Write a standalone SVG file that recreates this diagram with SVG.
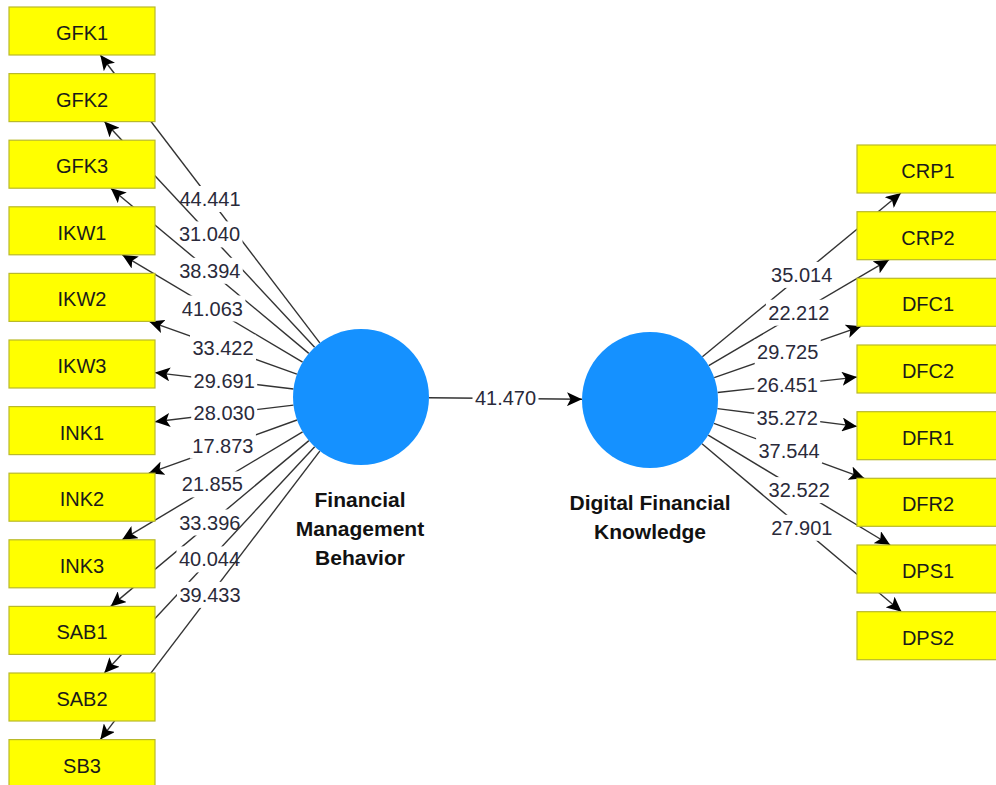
<svg xmlns="http://www.w3.org/2000/svg" width="996" height="785" viewBox="0 0 996 785">
<style>
.ln{stroke:#333;stroke-width:1.4;fill:none;marker-end:url(#ah)}
.lb rect{fill:#fff}
.lb text{font-family:"Liberation Sans",Arial,sans-serif;font-size:20px;fill:#2a2a3a;text-anchor:middle}
.bx rect{fill:#ffff00;stroke:#b9b92a;stroke-width:1.2}
.bx text{font-family:"Liberation Sans",Arial,sans-serif;font-size:20px;fill:#1a1a1a;text-anchor:middle}
.lv circle{fill:#1591ff}
.lv text{font-family:"Liberation Sans",Arial,sans-serif;font-size:21px;font-weight:bold;fill:#111;text-anchor:middle}
</style>
<defs>
<marker id="ah" markerUnits="userSpaceOnUse" markerWidth="15" markerHeight="14" viewBox="0 0 15 14" refX="15" refY="7" orient="auto">
<path d="M0,0 L15,7 L0,14 L3.5,7 z" fill="#000"/>
</marker>
</defs>
<rect width="996" height="785" fill="#fff"/>
<g id="connectors">
<line class="ln" x1="319.8" y1="342.9" x2="100.3" y2="55"/>
<g class="lb"><rect x="177" y="186" width="66" height="26"/><text x="210" y="206">44.441</text></g>
<line class="ln" x1="314.6" y1="347.2" x2="104.4" y2="121.6"/>
<g class="lb"><rect x="176.5" y="221.4" width="66" height="26"/><text x="209.5" y="241.4">31.040</text></g>
<line class="ln" x1="308.8" y1="353.4" x2="110.8" y2="188.2"/>
<g class="lb"><rect x="176.8" y="257.8" width="66" height="26"/><text x="209.8" y="277.8">38.394</text></g>
<line class="ln" x1="302.6" y1="362.2" x2="122.3" y2="254.8"/>
<g class="lb"><rect x="179.4" y="295.5" width="66" height="26"/><text x="212.4" y="315.5">41.063</text></g>
<line class="ln" x1="296.9" y1="374.1" x2="149.2" y2="321.4"/>
<g class="lb"><rect x="190" y="334.8" width="66" height="26"/><text x="223" y="354.8">33.422</text></g>
<line class="ln" x1="293.5" y1="389" x2="155" y2="372.6"/>
<g class="lb"><rect x="191.2" y="367.8" width="66" height="26"/><text x="224.2" y="387.8">29.691</text></g>
<line class="ln" x1="293.5" y1="405.1" x2="155" y2="421.8"/>
<g class="lb"><rect x="191.2" y="399.5" width="66" height="26"/><text x="224.2" y="419.5">28.030</text></g>
<line class="ln" x1="297" y1="420" x2="148.8" y2="473.2"/>
<g class="lb"><rect x="189.9" y="432.6" width="66" height="26"/><text x="222.9" y="452.6">17.873</text></g>
<line class="ln" x1="302.6" y1="431.9" x2="122.1" y2="539.8"/>
<g class="lb"><rect x="179.4" y="471.4" width="66" height="26"/><text x="212.4" y="491.4">21.855</text></g>
<line class="ln" x1="308.9" y1="440.6" x2="110.7" y2="606.4"/>
<g class="lb"><rect x="176.8" y="509.5" width="66" height="26"/><text x="209.8" y="529.5">33.396</text></g>
<line class="ln" x1="314.7" y1="446.8" x2="104.3" y2="673"/>
<g class="lb"><rect x="176.5" y="546.4" width="66" height="26"/><text x="209.5" y="566.4">40.044</text></g>
<line class="ln" x1="319.8" y1="451.1" x2="100.3" y2="739.6"/>
<g class="lb"><rect x="177" y="581.9" width="66" height="26"/><text x="210" y="601.9">39.433</text></g>
<line class="ln" x1="429" y1="397.7" x2="582" y2="399.3"/>
<g class="lb"><rect x="472.5" y="385" width="66" height="26"/><text x="505.5" y="405">41.470</text></g>
<line class="ln" x1="702.4" y1="356.7" x2="900.9" y2="193"/>
<g class="lb"><rect x="768.7" y="261.9" width="66" height="26"/><text x="801.7" y="281.9">35.014</text></g>
<line class="ln" x1="708.7" y1="365.6" x2="889.1" y2="259.7"/>
<g class="lb"><rect x="765.9" y="299.7" width="66" height="26"/><text x="798.9" y="319.7">22.212</text></g>
<line class="ln" x1="714.2" y1="377.6" x2="861.2" y2="326.3"/>
<g class="lb"><rect x="754.7" y="339" width="66" height="26"/><text x="787.7" y="359">29.725</text></g>
<line class="ln" x1="717.6" y1="392.5" x2="857" y2="377.1"/>
<g class="lb"><rect x="754.3" y="371.8" width="66" height="26"/><text x="787.3" y="391.8">26.451</text></g>
<line class="ln" x1="717.4" y1="408.6" x2="857" y2="426.4"/>
<g class="lb"><rect x="754.2" y="404.5" width="66" height="26"/><text x="787.2" y="424.5">35.272</text></g>
<line class="ln" x1="713.9" y1="423.3" x2="864.3" y2="478.3"/>
<g class="lb"><rect x="756.1" y="437.8" width="66" height="26"/><text x="789.1" y="457.8">37.544</text></g>
<line class="ln" x1="708.2" y1="435.2" x2="890.2" y2="545"/>
<g class="lb"><rect x="766.2" y="477.1" width="66" height="26"/><text x="799.2" y="497.1">32.522</text></g>
<line class="ln" x1="702" y1="443.8" x2="901.5" y2="611.7"/>
<g class="lb"><rect x="768.8" y="514.8" width="66" height="26"/><text x="801.8" y="534.8">27.901</text></g>
</g>
<g id="FMB" class="lv"><circle cx="361" cy="397" r="68"/><text x="360" y="507">Financial</text><text x="360" y="536">Management</text><text x="360" y="565">Behavior</text></g>
<g id="DFK" class="lv"><circle cx="650" cy="400" r="68"/><text x="650" y="510">Digital Financial</text><text x="650" y="539">Knowledge</text></g>
<g id="GFK1" class="bx"><rect x="9" y="7" width="146" height="48"/><text x="82" y="40">GFK1</text></g>
<g id="GFK2" class="bx"><rect x="9" y="73.6" width="146" height="48"/><text x="82" y="106.6">GFK2</text></g>
<g id="GFK3" class="bx"><rect x="9" y="140.2" width="146" height="48"/><text x="82" y="173.2">GFK3</text></g>
<g id="IKW1" class="bx"><rect x="9" y="206.8" width="146" height="48"/><text x="82" y="239.8">IKW1</text></g>
<g id="IKW2" class="bx"><rect x="9" y="273.4" width="146" height="48"/><text x="82" y="306.4">IKW2</text></g>
<g id="IKW3" class="bx"><rect x="9" y="340" width="146" height="48"/><text x="82" y="373">IKW3</text></g>
<g id="INK1" class="bx"><rect x="9" y="406.6" width="146" height="48"/><text x="82" y="439.6">INK1</text></g>
<g id="INK2" class="bx"><rect x="9" y="473.2" width="146" height="48"/><text x="82" y="506.2">INK2</text></g>
<g id="INK3" class="bx"><rect x="9" y="539.8" width="146" height="48"/><text x="82" y="572.8">INK3</text></g>
<g id="SAB1" class="bx"><rect x="9" y="606.4" width="146" height="48"/><text x="82" y="639.4">SAB1</text></g>
<g id="SAB2" class="bx"><rect x="9" y="673" width="146" height="48"/><text x="82" y="706">SAB2</text></g>
<g id="SB3" class="bx"><rect x="9" y="739.6" width="146" height="48"/><text x="82" y="772.6">SB3</text></g>
<g id="CRP1" class="bx"><rect x="857" y="145" width="146" height="48"/><text x="928" y="178">CRP1</text></g>
<g id="CRP2" class="bx"><rect x="857" y="211.7" width="146" height="48"/><text x="928" y="244.7">CRP2</text></g>
<g id="DFC1" class="bx"><rect x="857" y="278.3" width="146" height="48"/><text x="928" y="311.3">DFC1</text></g>
<g id="DFC2" class="bx"><rect x="857" y="345" width="146" height="48"/><text x="928" y="378">DFC2</text></g>
<g id="DFR1" class="bx"><rect x="857" y="411.7" width="146" height="48"/><text x="928" y="444.7">DFR1</text></g>
<g id="DFR2" class="bx"><rect x="857" y="478.3" width="146" height="48"/><text x="928" y="511.3">DFR2</text></g>
<g id="DPS1" class="bx"><rect x="857" y="545" width="146" height="48"/><text x="928" y="578">DPS1</text></g>
<g id="DPS2" class="bx"><rect x="857" y="611.7" width="146" height="48"/><text x="928" y="644.7">DPS2</text></g>
</svg>
